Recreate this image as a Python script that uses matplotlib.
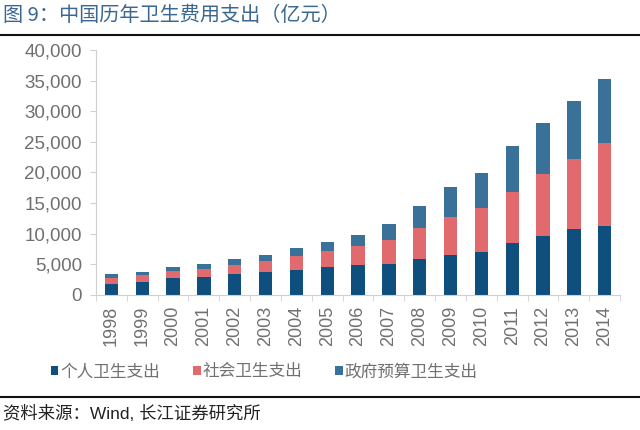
import matplotlib
matplotlib.use("Agg")
import matplotlib.pyplot as plt
from matplotlib.lines import Line2D
import numpy as np

plt.rcParams['font.family'] = ['Liberation Sans', 'Noto Sans CJK SC', 'DejaVu Sans']
cjk = ['Noto Sans CJK SC', 'DejaVu Sans']

# data (亿元)
years = ['1998', '1999', '2000', '2001', '2002', '2003', '2004', '2005', '2006',
         '2007', '2008', '2009', '2010', '2011', '2012', '2013', '2014']
personal = [1778, 2045, 2705, 2999, 3343, 3679, 4071, 4521, 4854,
            5098, 5876, 6571, 7051, 8465, 9656, 10730, 11295]
social = [1006, 1145, 1172, 1212, 1539, 1789, 2225, 2586, 3211,
          3894, 5066, 6154, 7197, 8416, 10031, 11394, 13438]
government = [587, 641, 710, 801, 909, 1117, 1294, 1553, 1779,
              2582, 3594, 4817, 5732, 7464, 8432, 9546, 10579]
series_names = ['个人卫生支出', '社会卫生支出', '政府预算卫生支出']
yticks = [0, 5000, 10000, 15000, 20000, 25000, 30000, 35000, 40000]

colors = ['#0e4f7e', '#e06a6e', '#3a7199']

fig = plt.figure(figsize=(6.4, 4.3), dpi=100)
ax = fig.add_axes([0.15, 0.314, 0.819, 0.57])

x = np.arange(len(years))
w = 0.43
p = np.array(personal)
s = np.array(social)
g = np.array(government)
ax.bar(x, p, w, color=colors[0], label=series_names[0])
ax.bar(x, s, w, bottom=p, color=colors[1], label=series_names[1])
ax.bar(x, g, w, bottom=p + s, color=colors[2], label=series_names[2])

ax.set_xlim(-0.5, len(years) - 0.5)
ax.set_ylim(0, 40000)
ax.set_yticks(yticks)
ax.set_yticklabels([f'{v:,}' for v in yticks])
ax.set_xticks(x)
ax.set_xticklabels(years, rotation=90)
ax.set_xticks(np.arange(-0.5, len(years), 1), minor=True)
ax.tick_params(axis='x', which='major', length=0, pad=8, labelsize=13, labelcolor='#707070')
ax.tick_params(axis='x', which='minor', length=4, color='#d0d0d0')
ax.tick_params(axis='y', length=4, color='#d0d0d0', labelsize=13.5, labelcolor='#707070', pad=6)

for side in ['top', 'right']:
    ax.spines[side].set_visible(False)
for side in ['left', 'bottom']:
    ax.spines[side].set_color('#d0d0d0')

leg = fig.legend(loc='center', bbox_to_anchor=(0.413, 0.135), ncol=3, frameon=False,
                 prop={'family': cjk, 'size': 12}, handlelength=0.45, handleheight=0.45,
                 handletextpad=0.1, columnspacing=2.0)
for t in leg.get_texts():
    t.set_color('#707070')

# title and source
fig.text(0.005, 0.965, '图 9：中国历年卫生费用支出（亿元）', fontsize=14.5, color='#3a6890',
         va='center', ha='left', family=cjk)
fig.add_artist(Line2D([0.0, 1.0], [0.918, 0.918], color='#111111', lw=1.5))
fig.add_artist(Line2D([0.0, 1.0], [0.077, 0.077], color='#111111', lw=1.5))
fig.text(0.005, 0.038, '资料来源：Wind, 长江证券研究所', fontsize=12.5, color='#222222',
         va='center', ha='left')

fig.savefig('out.png', dpi=100, facecolor='white')
